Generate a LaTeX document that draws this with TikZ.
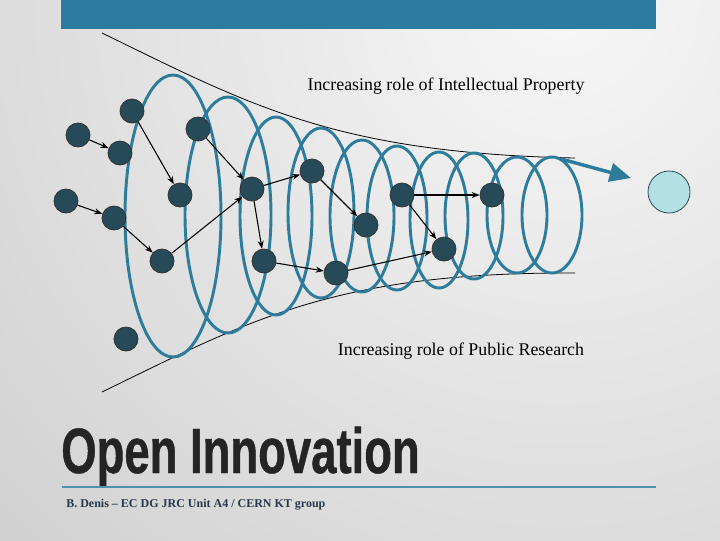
\documentclass[tikz,border=0pt]{standalone}
\usepackage{fontspec}
\setmainfont{Liberation Serif}
\newfontfamily\titlefont[FakeStretch=0.71,FakeBold=0.7]{Liberation Sans}
\usetikzlibrary{arrows.meta}
\definecolor{bannerblue}{RGB}{45,124,160}
\definecolor{coilblue}{RGB}{46,124,156}
\definecolor{dotfill}{RGB}{38,74,88}
\definecolor{goalfill}{RGB}{180,224,228}
\definecolor{bylinecol}{RGB}{40,55,78}

\begin{document}
\begin{tikzpicture}[x=0.75pt,y=0.75pt,yscale=-1,xscale=1,
  dot/.style={circle,fill=dotfill,draw=black!80,line width=0.6pt,minimum size=18pt,inner sep=0pt},
  link/.style={-{Stealth[length=6pt,width=4.5pt]},line width=0.8pt},
  coil/.style={draw=coilblue,line width=2.2pt},
  label/.style={font=\fontsize{13.4}{15}\selectfont,inner sep=0pt}]
\useasboundingbox (0,0) rectangle (720,540);
%Background
\begin{scope}
\clip (0,0) rectangle (720,540);
\shade[inner color=white!97!black,outer color=black!30] (560,0) circle [radius=1400];
\end{scope}
%Shape: Rectangle (banner)
\fill[bannerblue] (61,0) rectangle (656,29);
%Curve Lines (envelope)
\draw[line width=0.6pt] (102,33) .. controls (250,105) and (335,153) .. (575,158);
\draw[line width=0.6pt] (102,392) .. controls (250,320) and (335,272) .. (575,273);
%Shape: Ellipses (coil)
\foreach \cx/\cy/\rx/\ry in {173/216/48/141, 228/215/43/118, 276/216/36/99, 321/213/33/85,
    362/216/32/76, 397/218/30/72, 439/220/29/68, 474/216/29/63, 517/215/30/58, 552/215/30/58}
  \draw[coil] (\cx,\cy) ellipse [x radius=\rx, y radius=\ry];
%Straight Lines (output arrow)
\coordinate (coilend) at (561,159);
\coordinate (goaltip) at (631,178);
\draw[draw=coilblue,line width=2.6pt,-{Triangle[length=16pt,width=14pt]}] (coilend) -- (goaltip);
%Shape: Circle (goal)
\node[circle,fill=goalfill,draw=dotfill,line width=0.6pt,minimum size=31.5pt,inner sep=0pt] (goal) at (669,192) {};
%Shape: Circles (actors)
\node[dot] (a1) at (78,135) {};
\node[dot] (a2) at (120,153) {};
\node[dot] (a3) at (66,201) {};
\node[dot] (a4) at (114,218) {};
\node[dot] (a5) at (132,111) {};
\node[dot] (a6) at (180,195) {};
\node[dot] (a7) at (198,129) {};
\node[dot] (a8) at (162,261) {};
\node[dot] (a9) at (252,189) {};
\node[dot] (a10) at (264,261) {};
\node[dot] (a11) at (126,339) {};
\node[dot] (a12) at (312,171) {};
\node[dot] (a13) at (366,225) {};
\node[dot] (a14) at (336,273) {};
\node[dot] (a15) at (402,195) {};
\node[dot] (a16) at (492,195) {};
\node[dot] (a17) at (444,249) {};
%Straight Lines (links)
\draw[link] (a1) -- (a2);
\draw[link] (a3) -- (a4);
\draw[link] (a5) -- (a6);
\draw[link] (a4) -- (a8);
\draw[link] (a8) -- (a9);
\draw[link] (a7) -- (a9);
\draw[link] (a9) -- (a12);
\draw[link] (a9) -- (a10);
\draw[link] (a10) -- (a14);
\draw[link] (a12) -- (a13);
\draw[link] (a14) -- (a17);
\draw[link] (a15) -- (a16);
\draw[link] (a15) -- (a17);
% Text Node
\node[label] (iptext) at (446,86) {Increasing role of Intellectual Property};
% Text Node
\node[label] (prtext) at (461,351) {Increasing role of Public Research};
% Text Node
\node[anchor=base west,inner sep=0pt,text=black!86,font=\titlefont\bfseries\fontsize{48}{50}\selectfont] (title) at (61,473) {Open Innovation};
%Straight Lines (rule)
\coordinate (ruleleft) at (62,487);
\coordinate (ruleright) at (656,487);
\draw[draw=coilblue!85!white,line width=1.6pt] (ruleleft) -- (ruleright);
% Text Node
\node[anchor=base west,inner sep=0pt,text=bylinecol,font=\bfseries\fontsize{9}{10}\selectfont] (byline) at (66,507) {B. Denis -- EC DG JRC Unit A4 / CERN KT group};
\end{tikzpicture}
\end{document}
